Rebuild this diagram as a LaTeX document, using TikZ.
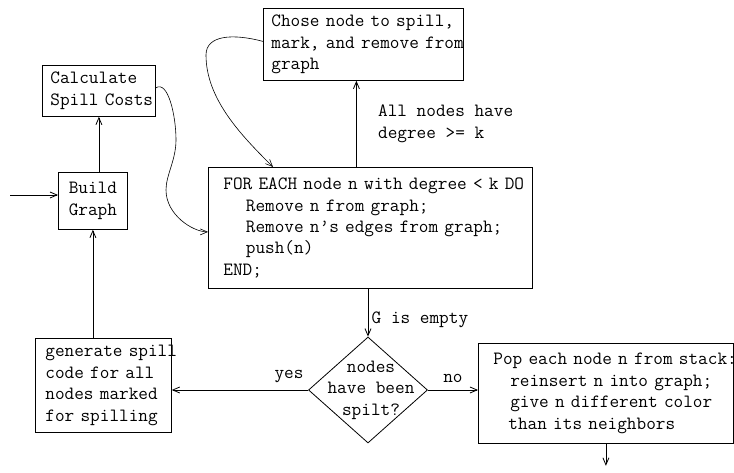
\documentclass[tikz,border=0pt]{standalone}
\usepackage{fontspec}
\usetikzlibrary{arrows.meta,shapes.geometric}

\begin{document}
\begin{tikzpicture}[>={Straight Barb[length=7bp,width=6bp]},x=1bp,y=-1bp,
		line width=0.8pt,
		txt/.style={font=\ttfamily\fontsize{18.8}{21.5}\selectfont},
		box/.style={txt,draw,anchor=north west,align=left,inner ysep=0pt},
		decision/.style={draw,diamond,inner sep=0pt,minimum width=119bp,minimum height=106bp}]
	\useasboundingbox (0,0) rectangle (734,473);
	%boxes, placed by their top left corner
	\node[box,text width=97bp,inner xsep=8bp,minimum height=51bp] (calc) at (42,65) {Calculate\\\mbox{Spill Costs}};
	\node[box,align=center,minimum width=69bp,minimum height=57bp] (build) at (58,172) {Build\\Graph};
	\node[box,text width=184bp,inner xsep=8bp,minimum height=72bp] (chose) at (263,8) {\mbox{Chose node to spill,}\\\mbox{mark, and remove from}\\graph};
	\node[box,text width=294bp,inner xsep=15bp,minimum height=121bp] (foreach) at (208,167) {\mbox{FOR EACH node n with degree < k DO}\\\hspace*{1.2em}Remove n from graph;\\\hspace*{1.2em}\mbox{Remove n’s edges from graph;}\\\hspace*{1.2em}push(n)\\END;};
	\node[box,text width=116bp,inner xsep=10bp,minimum height=94bp] (gen) at (35,338) {\mbox{generate spill}\\code for all\\nodes marked\\for spilling};
	\node[box,text width=225bp,inner xsep=15bp,minimum height=100bp] (pop) at (478,343) {\mbox{Pop each node n from stack:}\\\hspace*{0.9em}reinsert n into graph;\\\hspace*{0.9em}\mbox{give n different color}\\\hspace*{0.8em}than its neighbors};
	\node[decision] (q) at (368,390) {};
	\node[txt,align=center] at ([xshift=3bp]q) {nodes\\have been\\spilt?};
	%free ends
	\coordinate (in) at (10,195);
	\coordinate (out) at ([yshift=-22bp]pop.south);
	\coordinate (up) at ([xshift=-14bp]foreach.north);
	%straight connectors
	\draw[->] (in) -- (in -| build.west);
	\draw[->] (build.north -| calc.south) -- (calc.south);
	\draw[->] (gen.north -| build.south) -- (build.south);
	\draw[->] (up) -- (up |- chose.south) node[txt,midway,right=18bp,align=left]{All nodes have\\degree >= k};
	\draw[->] (q.north |- foreach.south) -- (q.north) node[txt,pos=0.65,right]{G is empty};
	\draw[->] (q.west) -- (q.west -| gen.east) node[txt,pos=0.14,above=4bp]{yes};
	\draw[->] (q.east) -- (q.east -| pop.west) node[txt,midway,above=4bp]{no};
	\draw[->] (pop.south) -- (out);
	%curved connectors
	\draw[->,line width=0.6pt] ([yshift=3bp]calc.east) .. controls +(12,-8) and +(0,-25) .. (176,140)
		.. controls +(0,20) and +(0,-15) .. (166,190)
		.. controls +(0,25) and +(-15,0) .. ([yshift=-4bp]foreach.west);
	\draw[->,line width=0.6pt] ([yshift=3bp]chose.west) .. controls +(-30,-8) and +(0,-20) .. (206,55)
		.. controls +(0,45) and +(-30,-30) .. ([xshift=65bp]foreach.north west);
\end{tikzpicture}
\end{document}
